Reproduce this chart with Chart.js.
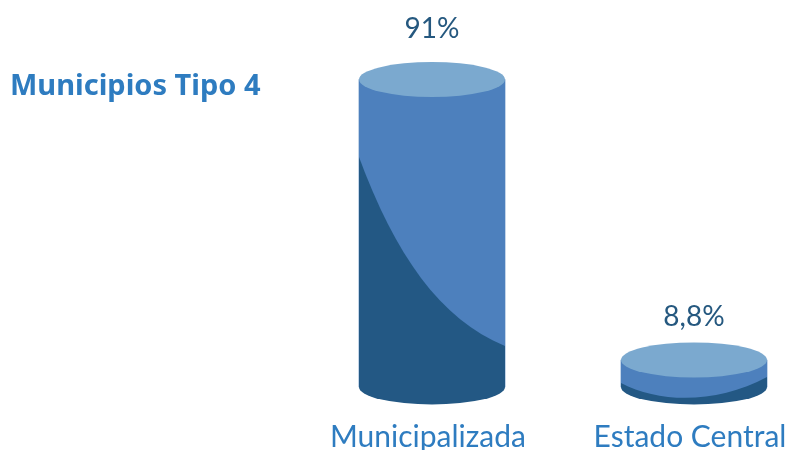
<!DOCTYPE html>
<html>
<head>
<meta charset="utf-8">
<style>
  html, body { margin: 0; padding: 0; background: #fff; overflow: hidden; }
  canvas { display: block; }
</style>
<script src="https://cdn.jsdelivr.net/npm/chart.js@4"></script>
</head>
<body>
<canvas id="cylinders" width="785" height="450"></canvas>
<script>
const chartTitle = 'Municipios Tipo 4';
const categories = ['Municipalizada', 'Estado Central'];
const values = [91, 8.8];
const valueLabels = ['91%', '8,8%'];

const topColor = '#7ba9cf';
const bodyColor = '#4d80bd';
const shadeColor = '#235884';
const labelColor = '#2e7cc0';
const valueColor = '#25587f';
const fontName = 'Lato, sans-serif';
const titleFont = '"Noto Sans", sans-serif';

// how the dark part cuts the body, as fractions of bar width and height
const shadeCurves = [
    [[0, 0.252], [0.247, 0.57], [0.555, 0.78], [1, 0.867]],
    [[0, 0.85], [0.27, 1.62], [0.66, 1.62], [1, 0.63]]
];
const labelGaps = [42, 34];
const ellipseRy = 17.5;

const cylinderPlugin = {
    id: 'cylinders',
    afterDatasetsDraw(chart) {
        const ctx = chart.ctx;
        chart.getDatasetMeta(0).data.forEach((bar, i) => {
            const rx = bar.width / 2;
            const left = bar.x - rx;
            const h = bar.base - bar.y;
            const pt = p => [left + p[0] * bar.width, bar.y + p[1] * h];
            const c = shadeCurves[i].map(pt);

            ctx.save();
            // body with rounded bottom
            ctx.beginPath();
            ctx.moveTo(left, bar.y);
            ctx.lineTo(left, bar.base);
            ctx.ellipse(bar.x, bar.base, rx, ellipseRy, 0, Math.PI, 0, true);
            ctx.lineTo(left + bar.width, bar.y);
            ctx.closePath();
            ctx.fillStyle = shadeColor;
            ctx.fill();
            ctx.clip();

            // lighter part above the curve
            ctx.beginPath();
            ctx.moveTo(left, bar.y);
            ctx.lineTo(c[0][0], c[0][1]);
            ctx.bezierCurveTo(c[1][0], c[1][1], c[2][0], c[2][1], c[3][0], c[3][1]);
            ctx.lineTo(left + bar.width, bar.y);
            ctx.closePath();
            ctx.fillStyle = bodyColor;
            ctx.fill();
            ctx.restore();

            // top cap
            ctx.beginPath();
            ctx.ellipse(bar.x, bar.y, rx, ellipseRy, 0, 0, Math.PI * 2);
            ctx.fillStyle = topColor;
            ctx.fill();

            ctx.fillStyle = valueColor;
            ctx.font = '28px ' + fontName;
            ctx.textAlign = 'center';
            ctx.textBaseline = 'alphabetic';
            ctx.fillText(valueLabels[i], bar.x, bar.y - labelGaps[i]);
        });

        ctx.fillStyle = labelColor;
        ctx.font = 'bold 29px ' + titleFont;
        ctx.textAlign = 'left';
        ctx.textBaseline = 'alphabetic';
        ctx.fillText(chartTitle, 10, 95);
    }
};

new Chart(document.getElementById('cylinders').getContext('2d'), {
    type: 'bar',
    data: {
        labels: categories,
        datasets: [{
            data: values,
            base: 0.9,
            backgroundColor: bodyColor,
            borderWidth: 0,
            barThickness: 146,
            clip: false
        }]
    },
    options: {
        responsive: false,
        animation: false,
        layout: { padding: { left: 432, right: 91, top: 79.5, bottom: 0 } },
        plugins: {
            legend: { display: false },
            tooltip: { enabled: false }
        },
        scales: {
            x: {
                offset: false,
                grid: { display: false },
                border: { display: false },
                afterFit(scale) {
                    scale.height = 60;
                    scale.paddingLeft = 0;
                    scale.paddingRight = 0;
                },
                ticks: {
                    color: labelColor,
                    font: { family: fontName, size: 30 },
                    autoSkip: false,
                    maxRotation: 0,
                    minRotation: 0,
                    padding: 21,
                    labelOffset: -4
                }
            },
            y: {
                display: false,
                min: 0,
                max: 91
            }
        }
    },
    plugins: [cylinderPlugin]
});
</script>
</body>
</html>
